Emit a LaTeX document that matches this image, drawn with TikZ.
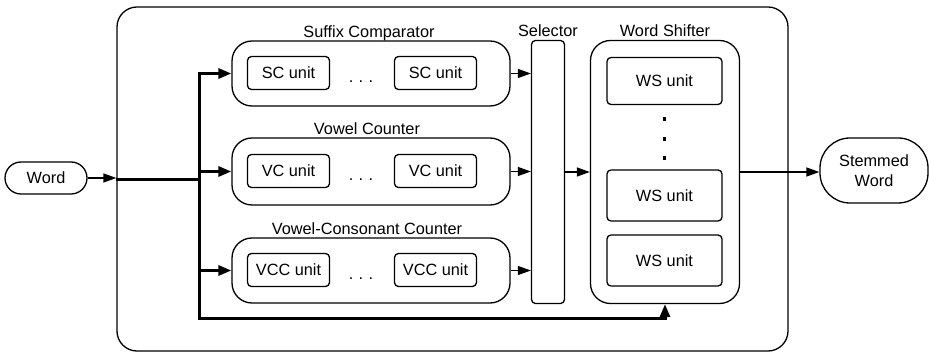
\documentclass[tikz,border=0pt]{standalone}
\usepackage{fontspec}
\setmainfont{Liberation Sans}
\usetikzlibrary{arrows.meta}

\tikzset{
  block/.style={draw, line width=1.3pt, rounded corners=20pt, inner sep=0pt},
  unit/.style={draw, line width=1.3pt, rounded corners=4pt, minimum width=82pt, minimum height=33pt, inner sep=0pt},
  title/.style={anchor=base, inner sep=0pt},
  arr/.style={line width=1.3pt, -{Triangle[length=13pt,width=9pt]}},
  busarr/.style={line width=3pt, -{Triangle[length=13pt,width=10pt]}},
}

\begin{document}
\begin{tikzpicture}[x=1pt, y=-1pt, font=\fontsize{16.3}{19.5}\selectfont]
\useasboundingbox (0,0) rectangle (929,352);

% outer frame and terminals
\node [block, minimum width=671pt, minimum height=344pt] (outer) at (452.5,179) {};
\node [block, rounded corners=16pt, minimum width=82pt, minimum height=32pt] (word) at (46,178) {Word};
\node [block, rounded corners=30pt, minimum width=108pt, minimum height=65pt, align=center] (stem) at (874,170.5) {Stemmed\\Word};

% comparator rows
\node [block, minimum width=278pt, minimum height=65pt] (sc) at (371,73.5) {};
\node [block, minimum width=278pt, minimum height=67pt] (vc) at (371,171.5) {};
\node [block, minimum width=278pt, minimum height=65pt] (vcc) at (371,270.5) {};
\node [title] (sct) at (369,38) {Suffix Comparator};
\node [title] (vct) at (367,135) {Vowel Counter};
\node [title] (vcct) at (367,235) {Vowel-Consonant Counter};

\node [unit] (sc1) at (288.5,73) {SC unit};
\node [unit] (sc2) at (435.5,73) {SC unit};
\node [unit] (vc1) at (288.5,171) {VC unit};
\node [unit] (vc2) at (435.5,171) {VC unit};
\node [unit] (vcc1) at (288.5,270) {VCC unit};
\node [unit] (vcc2) at (435.5,270) {VCC unit};
\node [title] (scd) at (361,83) {.\,\,.\,\,.};
\node [title] (vcd) at (361,181) {.\,\,.\,\,.};
\node [title] (vccd) at (361,280) {.\,\,.\,\,.};

% selector and word shifter
\node [block, rounded corners=4pt, minimum width=33pt, minimum height=263pt] (sel) at (548,172) {};
\node [title] (selt) at (548,37) {Selector};
\node [block, minimum width=149pt, minimum height=263pt] (ws) at (665,172) {};
\node [title] (wst) at (665,37) {Word Shifter};
\node [unit, minimum width=115pt, minimum height=47pt] (ws1) at (664.5,81) {WS unit};
\node [unit, minimum width=115pt, minimum height=51pt] (ws2) at (664.5,195.5) {WS unit};
\node [unit, minimum width=115pt, minimum height=51pt] (ws3) at (664.5,260.5) {WS unit};
\foreach \y in {119,139,158}
  \fill (664.5,\y) +(-1.8,-1.8) rectangle +(1.8,1.8);

% connectors
\coordinate (bus) at (199,180);
\coordinate (busbot) at (199,319);
\draw [arr] (word) -- (word -| outer.west);
\draw [line width=3pt] (outer.west |- bus) -- (bus);
\draw [busarr] (bus) |- (sc.west);
\draw [busarr] (bus) |- (vc.west);
\draw [busarr] (bus) |- (vcc.west);
\draw [busarr] (bus) -- (busbot) -| (ws.south);
\draw [arr] (sc.east) -- (sc.east -| sel.west);
\draw [arr] (vc.east) -- (vc.east -| sel.west);
\draw [arr] (vcc.east) -- (vcc.east -| sel.west);
\draw [arr] (sel.east |- ws) -- (ws.west);
\draw [arr] (ws.east) -- (ws.east -| stem.west);
\end{tikzpicture}
\end{document}
